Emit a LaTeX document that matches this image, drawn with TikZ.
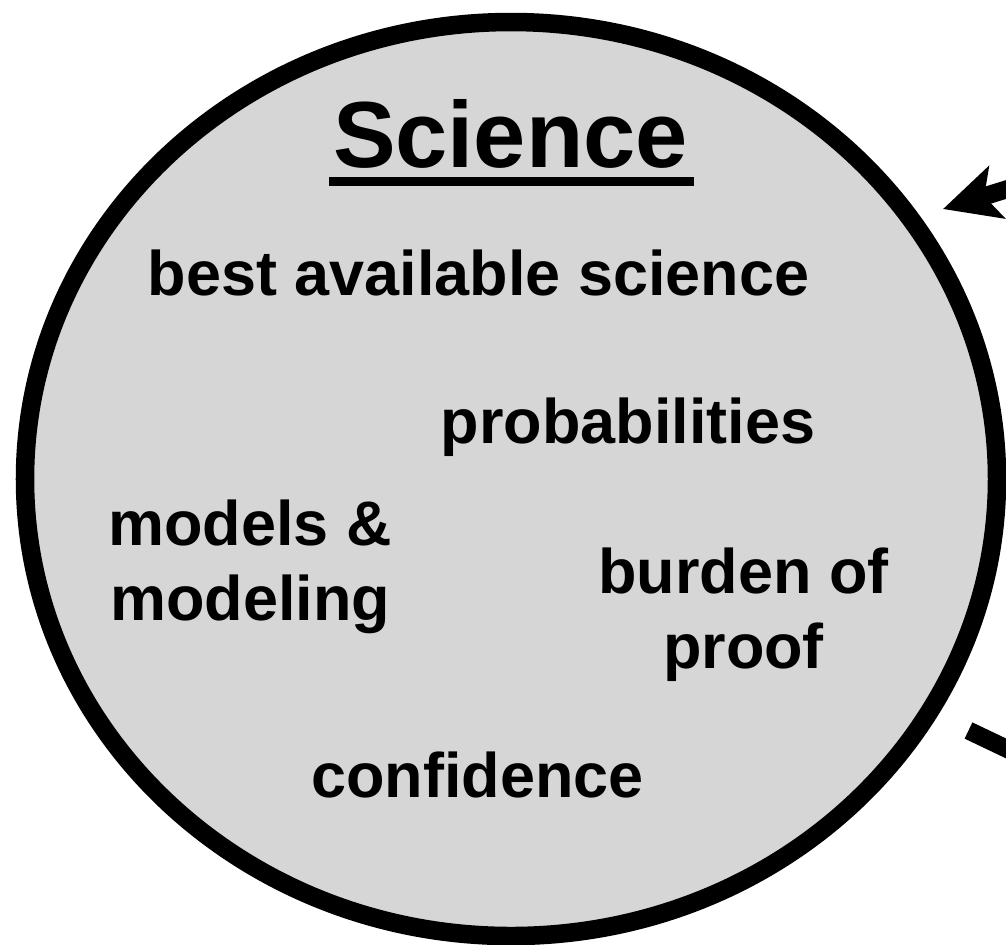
\documentclass[tikz,border=0pt]{standalone}
\usepackage{fontspec}
\setmainfont{Liberation Sans}
\usetikzlibrary{arrows.meta}

\begin{document}
\begin{tikzpicture}[x=0.01cm, y=0.01cm,
    term/.style={font=\bfseries\fontsize{17.9}{21.3}\selectfont, inner sep=0pt, anchor=base, align=center},
    inarrow/.style={-{Stealth[length=5.6mm, width=5.4mm, inset=1.3mm, fill=black]}, line width=1.8mm}]
    \useasboundingbox (0,-944) rectangle (1006,0);
    \draw[line width=1.85mm, fill=gray!32] (511,-479) ellipse[x radius=486, y radius=457];
    \node[term, font=\bfseries\fontsize{26.7}{30}\selectfont] (sci) at (510.5,-167) {Science};
    \draw[line width=0.9mm] ([xshift=-0.3mm, yshift=-1.4mm]sci.base west) -- ([xshift=0.5mm, yshift=-1.4mm]sci.base east);
    \node[term] (best) at (478.5,-295) {best available science};
    \node[term] (prob) at (628,-443) {probabilities};
    \node[term] (models) at (250,-620) {models \&\\modeling};
    \node[term] (burden) at (743.5,-668) {burden of\\proof};
    \node[term] (conf) at (477.5,-797) {confidence};
    % arrows coming in from the right
    \coordinate (intail) at (1040,-179);
    \coordinate (intip) at (943,-209);
    \coordinate (outstart) at (968.5,-730.5);
    \coordinate (outend) at (1040,-764.6);
    \draw[inarrow] (intail) -- (intip);
    \draw[line width=1.8mm] (outstart) -- (outend);
\end{tikzpicture}
\end{document}
